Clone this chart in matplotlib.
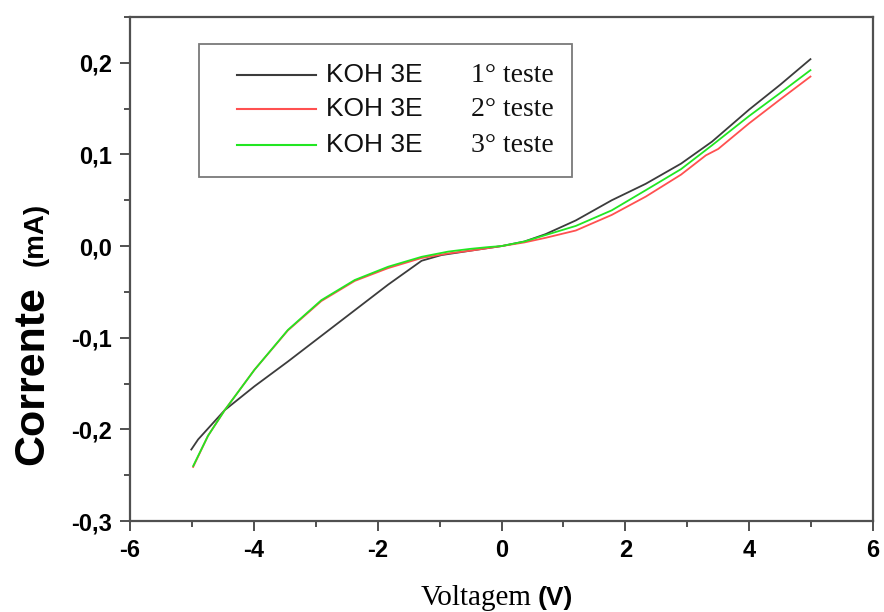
import numpy as np
import matplotlib
matplotlib.use("Agg")
import matplotlib.pyplot as plt
from matplotlib.lines import Line2D
from matplotlib.patches import Rectangle
from matplotlib.ticker import MultipleLocator, FuncFormatter

plt.rcParams["axes.unicode_minus"] = False

# ------------------------------------------------------------------
# DATA
# ------------------------------------------------------------------
volt_1 = [-5.01, -4.90, -4.47, -3.99, -3.45, -2.91, -2.37, -1.83, -1.29,
          -0.97, -0.5, -0.2, 0.0, 0.37, 0.71, 1.2, 1.78, 2.33, 2.9, 3.4,
          4.0, 4.5, 4.99]
curr_1 = [-0.222, -0.211, -0.179, -0.153, -0.126, -0.098, -0.070, -0.042,
          -0.016, -0.0098, -0.005, -0.002, 0.000, 0.005, 0.013, 0.028, 0.050,
          0.068, 0.090, 0.114, 0.149, 0.176, 0.204]

volt_2 = [-4.98, -4.74, -4.47, -3.99, -3.45, -2.91, -2.37, -1.83, -1.29,
          -0.86, -0.5, -0.2, 0.0, 0.37, 0.71, 1.2, 1.78, 2.33, 2.9, 3.3, 3.5,
          4.0, 4.5, 4.99]
curr_2 = [-0.241, -0.207, -0.179, -0.135, -0.092, -0.060, -0.038, -0.024,
          -0.013, -0.008, -0.005, -0.002, 0.000, 0.004, 0.009, 0.017, 0.034,
          0.054, 0.078, 0.099, 0.106, 0.134, 0.160, 0.185]

volt_3 = [-4.98, -4.74, -4.47, -3.99, -3.45, -2.91, -2.37, -1.83, -1.29,
          -0.86, -0.5, -0.2, 0.0, 0.37, 0.71, 1.2, 1.78, 2.33, 2.9, 3.4,
          4.0, 4.5, 4.99]
curr_3 = [-0.240, -0.207, -0.179, -0.135, -0.0915, -0.059, -0.037, -0.0225,
          -0.0117, -0.006, -0.003, -0.001, 0.000, 0.005, 0.012, 0.022, 0.039,
          0.061, 0.084, 0.110, 0.142, 0.167, 0.192]

series_names = ["KOH 3E", "KOH 3E", "KOH 3E"]
test_names = ["1\u00b0 teste", "2\u00b0 teste", "3\u00b0 teste"]
colors = ["#3c3c3c", "#ff5050", "#22e622"]

SANS = "Liberation Sans"
SERIF = "Liberation Serif"

W, H = 884, 612
fig = plt.figure(figsize=(W / 100, H / 100), dpi=100)


def px(x, y):
    """pixel (from top-left) -> figure fraction"""
    return x / W, 1 - y / H


ax_l, ax_r, ax_t, ax_b = 130, 873, 17, 521
ax = fig.add_axes([ax_l / W, 1 - ax_b / H, (ax_r - ax_l) / W, (ax_b - ax_t) / H])

for v, c, col in zip([volt_1, volt_2, volt_3], [curr_1, curr_2, curr_3], colors):
    ax.plot(v, c, color=col, lw=1.3)

ax.set_xlim(-6, 6)
ax.set_ylim(-0.3, 0.25)
ax.xaxis.set_major_locator(MultipleLocator(2))
ax.xaxis.set_minor_locator(MultipleLocator(1))
ax.yaxis.set_major_locator(MultipleLocator(0.1))
ax.yaxis.set_minor_locator(MultipleLocator(0.05))
ax.xaxis.set_major_formatter(FuncFormatter(lambda v, p: f"{v:.0f}"))
ax.yaxis.set_major_formatter(
    FuncFormatter(lambda v, p: f"{v:.1f}".replace(".", ",").replace("-0,0", "0,0")))

for s in ax.spines.values():
    s.set_color("#505050")
    s.set_linewidth(1.6)

ax.tick_params(which="both", direction="out", top=False, right=False,
               color="#505050", width=1.4)
ax.tick_params(which="major", length=7, pad=6)
ax.tick_params(which="minor", length=4.5)
for lab in ax.get_xticklabels() + ax.get_yticklabels():
    lab.set_fontfamily(SANS)
    lab.set_fontweight("bold")
    lab.set_fontsize(17)

# legend drawn by hand (mixed fonts inside)
lx0, lx1, ly0, ly1 = 199, 572, 44, 177
def ax_frac(x, y):
    return (x - ax_l) / (ax_r - ax_l), (ax_b - y) / (ax_b - ax_t)

fx0, fy1 = ax_frac(lx0, ly1)
fx1, fy0 = ax_frac(lx1, ly0)
ax.add_patch(Rectangle((fx0, fy1), fx1 - fx0, fy0 - fy1, transform=ax.transAxes,
                       fill=False, edgecolor="#7a7a7a", lw=1.3, zorder=5))
rows = [75, 109, 145]
for yy, col, name, test in zip(rows, colors, series_names, test_names):
    a0 = ax_frac(237, yy)
    a1 = ax_frac(316, yy)
    ax.add_line(Line2D([a0[0], a1[0]], [a0[1], a1[1]], transform=ax.transAxes,
                       color=col, lw=1.5, zorder=6))
    t = ax_frac(326, yy)
    ax.text(t[0], t[1], name, transform=ax.transAxes, fontsize=19,
            family=SANS, va="center", ha="left", color="#111111")
    t2 = ax_frac(471, yy + 1)
    ax.text(t2[0], t2[1], test, transform=ax.transAxes, fontsize=20,
            family=SERIF, va="center", ha="left", color="#111111")

# axis labels with mixed fonts
x, y = px(532, 605)
fig.text(x, y, "Voltagem", family=SERIF, fontsize=21, ha="right", va="baseline")
x, y = px(538, 605)
fig.text(x, y, "(V)", family=SANS, fontweight="bold", fontsize=19,
         ha="left", va="baseline")

x, y = px(43, 465)
fig.text(x, y, "Corrente", family=SANS, fontweight="bold", fontsize=31,
         rotation=90, rotation_mode="anchor", ha="left", va="baseline")
x, y = px(43, 266)
fig.text(x, y, "(mA)", family=SANS, fontweight="bold", fontsize=20,
         rotation=90, rotation_mode="anchor", ha="left", va="baseline")

fig.savefig("out.png", dpi=100)
